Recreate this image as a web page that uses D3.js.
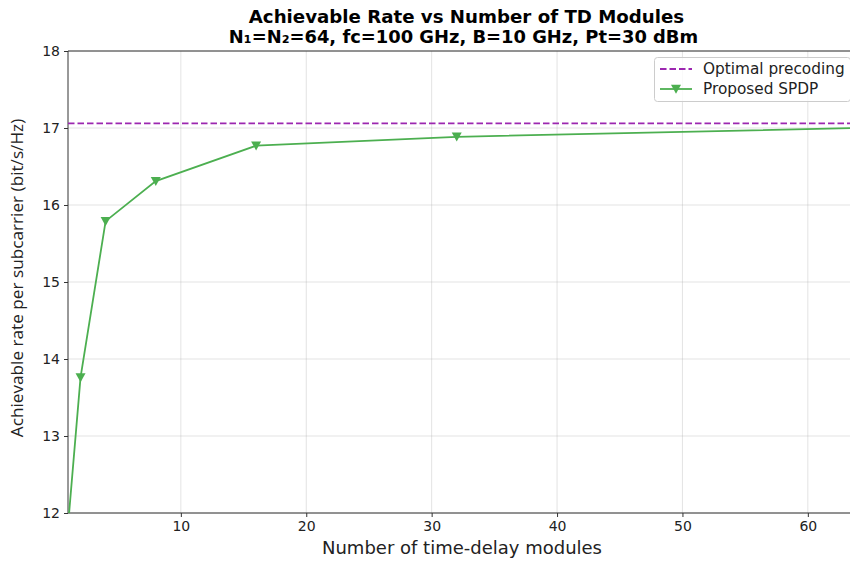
<!DOCTYPE html>
<html>
<head>
<meta charset="utf-8">
<script src="https://cdn.jsdelivr.net/npm/d3@7/dist/d3.min.js"></script>
<style>
body { margin: 0; background: #fff; }
svg { display: block; }
</style>
</head>
<body>
<svg id="chart" width="850" height="561"></svg>
<script>
const tdModules = [1, 2, 4, 8, 16, 32, 64];
const spdpRate = [11.83, 13.76, 15.79, 16.31, 16.77, 16.885, 17.0];
const optimalRate = 17.06;
const xTicks = [10, 20, 30, 40, 50, 60];
const yTicks = [12, 13, 14, 15, 16, 17, 18];
const titleLines = ["Achievable Rate vs Number of TD Modules", "N\u2081=N\u2082=64, fc=100 GHz, B=10 GHz, Pt=30 dBm"];
const seriesNames = ["Optimal precoding", "Proposed SPDP"];

const m = { left: 68, top: 51, right: 858, bottom: 513 };
const svg = d3.select("#chart");
const x = d3.scaleLinear().domain([1, 64]).range([m.left, m.right]);
const y = d3.scaleLinear().domain([12, 18]).range([m.bottom, m.top]);

const green = "#4CAF50", purple = "#9C27B0";
const font = "DejaVu Sans, sans-serif";

svg.append("defs").append("clipPath").attr("id", "clip")
  .append("rect").attr("x", m.left).attr("y", m.top)
  .attr("width", m.right - m.left).attr("height", m.bottom - m.top);

// grid
const grid = svg.append("g");
grid.selectAll(".gx").data(xTicks).join("line")
  .attr("x1", d => x(d)).attr("x2", d => x(d))
  .attr("y1", m.top).attr("y2", m.bottom)
  .attr("stroke", "#b0b0b0").attr("stroke-opacity", 0.35).attr("stroke-width", 1);
grid.selectAll(".gy").data(yTicks).join("line")
  .attr("x1", m.left).attr("x2", m.right)
  .attr("y1", d => y(d)).attr("y2", d => y(d))
  .attr("stroke", "#b0b0b0").attr("stroke-opacity", 0.35).attr("stroke-width", 1);

// axes
const xAxis = d3.axisBottom(x).tickValues(xTicks).tickSize(4).tickPadding(4).tickFormat(d3.format("d"));
const yAxis = d3.axisLeft(y).tickValues(yTicks).tickSize(4).tickPadding(4).tickFormat(d3.format("d"));
const gx = svg.append("g").attr("transform", `translate(0,${m.bottom})`).call(xAxis);
const gy = svg.append("g").attr("transform", `translate(${m.left},0)`).call(yAxis);
[gx, gy].forEach(g => {
  g.select(".domain").remove();
  g.selectAll("text").attr("font-family", font).attr("font-size", 14).attr("fill", "#222");
  g.selectAll(".tick line").attr("stroke", "#333").attr("stroke-width", 1);
});
gy.selectAll("text").attr("dy", "0.35em");

// spines
const sp = svg.append("g").attr("stroke", "#333").attr("stroke-width", 1);
sp.append("line").attr("x1", m.left).attr("x2", m.left).attr("y1", m.top).attr("y2", m.bottom);
sp.append("line").attr("x1", m.left).attr("x2", m.right).attr("y1", m.bottom).attr("y2", m.bottom);
sp.append("line").attr("x1", m.left).attr("x2", m.right).attr("y1", m.top).attr("y2", m.top);
sp.append("line").attr("x1", m.right).attr("x2", m.right).attr("y1", m.top).attr("y2", m.bottom);

const plot = svg.append("g").attr("clip-path", "url(#clip)");
// optimal
plot.append("line")
  .attr("x1", x(1)).attr("x2", x(64))
  .attr("y1", y(optimalRate)).attr("y2", y(optimalRate))
  .attr("stroke", purple).attr("stroke-width", 1.8).attr("stroke-dasharray", "6.5,3");

// spdp
const line = d3.line().x((d, i) => x(tdModules[i])).y(d => y(d));
plot.append("path").datum(spdpRate).attr("d", line)
  .attr("fill", "none").attr("stroke", green).attr("stroke-width", 1.8);
const tri = s => `M${-s},${-s*0.85}L${s},${-s*0.85}L0,${s*0.95}Z`;
plot.selectAll(".mk").data(spdpRate).join("path")
  .attr("transform", (d, i) => `translate(${x(tdModules[i])},${y(d)})`)
  .attr("d", tri(5)).attr("fill", green);

// title
svg.append("text").attr("x", 466.5).attr("y", 23).attr("text-anchor", "middle")
  .attr("font-family", font).attr("font-weight", "bold").attr("font-size", 18.2).attr("fill", "#000")
  .text(titleLines[0]);
svg.append("text").attr("x", 463.5).attr("y", 43).attr("text-anchor", "middle")
  .attr("font-family", font).attr("font-weight", "bold").attr("font-size", 17.9).attr("fill", "#000")
  .text(titleLines[1]);

// axis labels
svg.append("text").attr("x", 462).attr("y", 554).attr("text-anchor", "middle")
  .attr("font-family", font).attr("font-size", 18).attr("fill", "#222")
  .text("Number of time-delay modules");
svg.append("text").attr("transform", `translate(23,${(m.top + m.bottom) / 2 - 4}) rotate(-90)`)
  .attr("text-anchor", "middle").attr("font-family", "Open Sans, sans-serif").attr("font-size", 17.2).attr("fill", "#222")
  .text("Achievable rate per subcarrier (bit/s/Hz)");

// legend
const lg = svg.append("g");
lg.append("rect").attr("x", 654.5).attr("y", 57.5).attr("width", 196).attr("height", 44).attr("rx", 3)
  .attr("fill", "#fff").attr("fill-opacity", 0.8).attr("stroke", "#ccc").attr("stroke-width", 1);
lg.append("line").attr("x1", 660).attr("x2", 692).attr("y1", 69).attr("y2", 69)
  .attr("stroke", purple).attr("stroke-width", 1.8).attr("stroke-dasharray", "6.5,3");
lg.append("line").attr("x1", 660).attr("x2", 692).attr("y1", 89).attr("y2", 89)
  .attr("stroke", green).attr("stroke-width", 1.8);
lg.append("path").attr("transform", "translate(676,89)").attr("d", tri(5)).attr("fill", green);
lg.selectAll(".lt").data(seriesNames).join("text")
  .attr("x", 703).attr("y", (d, i) => 69 + i * 20).attr("dy", "0.35em")
  .attr("font-family", font).attr("font-size", 15.3).attr("fill", "#222").text(d => d);
</script>
</body>
</html>
